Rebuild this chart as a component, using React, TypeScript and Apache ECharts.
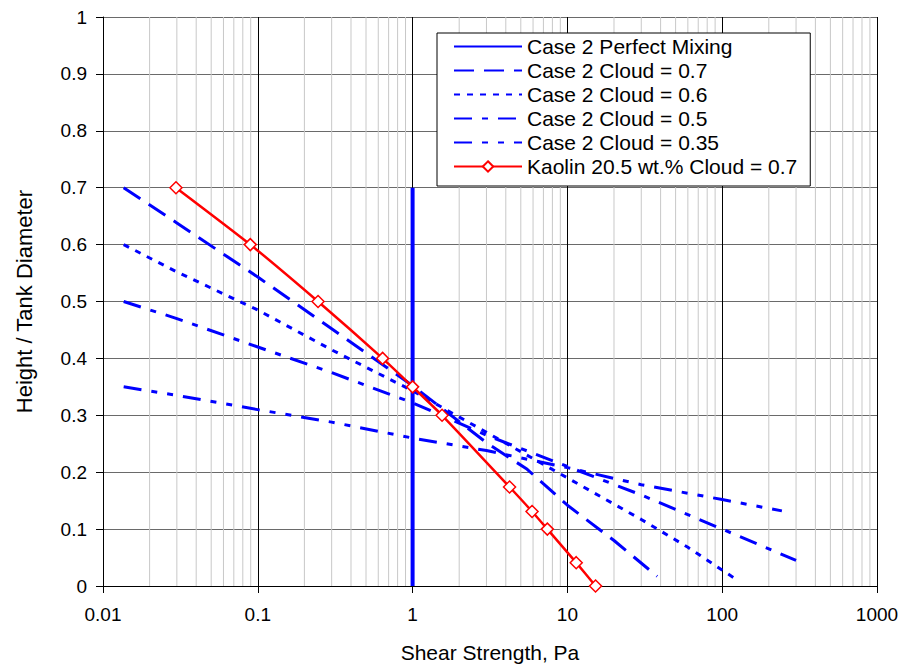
import React, { useEffect, useRef } from "react";
import * as echarts from "echarts";

const perfectX = [1, 1];
const perfectY = [0, 0.7];

const cloud07X = [0.0136, 0.03, 0.1, 0.3, 1, 3, 5.5, 10, 20, 38];
const cloud07Y = [0.7, 0.638, 0.543, 0.452, 0.352, 0.252, 0.205, 0.142, 0.08, 0.017];

const cloud06X = [0.0136, 0.03, 0.1, 0.3, 1, 3, 10, 30, 60, 118];
const cloud06Y = [0.6, 0.552, 0.485, 0.415, 0.343, 0.27, 0.19, 0.117, 0.068, 0.015];

const cloud05X = [0.0136, 0.03, 0.1, 0.3, 1, 3, 10, 30, 100, 300];
const cloud05Y = [0.5, 0.47, 0.42, 0.375, 0.322, 0.265, 0.21, 0.16, 0.1, 0.045];

const cloud035X = [0.0136, 0.03, 0.1, 0.3, 1, 3, 10, 30, 100, 243];
const cloud035Y = [0.35, 0.335, 0.31, 0.288, 0.26, 0.238, 0.208, 0.178, 0.152, 0.132];

const kaolinX = [0.0296, 0.0894, 0.245, 0.64, 1.0, 1.55, 4.23, 5.91, 7.42, 11.4, 15.2];
const kaolinY = [0.7, 0.6, 0.5, 0.4, 0.35, 0.3, 0.174, 0.131, 0.1, 0.041, 0];

const seriesNames = [
  "Case 2 Perfect Mixing",
  "Case 2 Cloud = 0.7",
  "Case 2 Cloud = 0.6",
  "Case 2 Cloud = 0.5",
  "Case 2 Cloud = 0.35",
  "Kaolin 20.5 wt.% Cloud = 0.7",
];

const decades = [0.01, 0.1, 1, 10, 100];
const minorSteps = [2, 3, 4, 5, 6, 7, 8, 9];

const FONT = "'Liberation Sans', Arial, sans-serif";

function pairs(xs: number[], ys: number[]) {
  return xs.map((x, i) => [x, ys[i]]);
}

export default function App() {
  const ref = useRef<HTMLDivElement>(null);
  useEffect(() => {
    document.body.style.margin = "0";
    if (!ref.current) return;
    const chart = echarts.init(ref.current, undefined, { renderer: "svg" });
    const minorLines: number[][] = [];
    decades.forEach((d) =>
      minorSteps.forEach((k) => minorLines.push([parseFloat((d * k).toPrecision(6))]))
    );

    const blue = "#0000ff";
    const cloudSeries = (name: string, xs: number[], ys: number[], dash: number[]) => ({
      name,
      type: "line",
      data: pairs(xs, ys),
      symbol: "none",
      z: 3,
      color: blue,
      itemStyle: { color: blue, opacity: 0 },
      lineStyle: { color: blue, width: 3, type: dash, cap: "butt" },
    });

    chart.setOption({
      animation: false,
      backgroundColor: "#ffffff",
      textStyle: { fontFamily: FONT },
      grid: {
        left: 103,
        right: 27,
        top: 17,
        bottom: 78,
        containLabel: false,
        outerBoundsMode: "none",
      },
      legend: {
        data: seriesNames,
        orient: "vertical",
        left: 437,
        top: 33,
        padding: [3, 13, 9, 16],
        itemWidth: 68,
        itemHeight: 13,
        itemGap: 3,
        backgroundColor: "#ffffff",
        borderColor: "#000000",
        borderWidth: 1,
        borderRadius: 0,
        textStyle: { fontFamily: FONT, fontSize: 21, color: "#000", lineHeight: 21 },
        itemTextGap: 6,
      },
      xAxis: {
        type: "log",
        logBase: 10,
        min: 0.01,
        max: 1000,
        name: "Shear Strength, Pa",
        nameLocation: "middle",
        nameGap: 56,
        nameTextStyle: { fontFamily: FONT, fontSize: 21, color: "#000" },
        axisLine: { show: true, onZero: false, lineStyle: { color: "#000", width: 1 } },
        axisTick: { show: true, length: 7, lineStyle: { color: "#000" } },
        axisLabel: {
          fontFamily: FONT,
          fontSize: 19,
          color: "#000",
          margin: 19,
          formatter: (v: number) => String(parseFloat(v.toPrecision(6))),
        },
        splitLine: { show: true, lineStyle: { color: "#000", width: 1 } },
      },
      yAxis: {
        type: "value",
        min: 0,
        max: 1,
        interval: 0.1,
        name: "Height / Tank Diameter",
        nameLocation: "middle",
        nameRotate: 90,
        nameGap: 68,
        nameTextStyle: { fontFamily: FONT, fontSize: 22, color: "#000" },
        axisLine: { show: true, lineStyle: { color: "#000", width: 1 } },
        axisTick: { show: true, length: 7, lineStyle: { color: "#000" } },
        axisLabel: {
          fontFamily: FONT,
          fontSize: 19,
          color: "#000",
          margin: 16,
          formatter: (v: number) => String(parseFloat(v.toFixed(1))),
        },
        splitLine: { show: true, lineStyle: { color: "#6a6a6a", width: 1 } },
      },
      series: [
        {
          name: "minor-grid",
          type: "custom",
          data: minorLines,
          z: 1,
          silent: true,
          clip: true,
          renderItem: (params: any, api: any) => {
            const v = api.value(0);
            const top = api.coord([v, 1]);
            const bottom = api.coord([v, 0]);
            return {
              type: "line",
              shape: { x1: top[0], y1: top[1], x2: bottom[0], y2: bottom[1] },
              style: { stroke: "#c8c8c8", lineWidth: 1 },
              z2: 0,
            };
          },
          encode: { x: 0 },
        },
        {
          name: seriesNames[0],
          type: "line",
          data: pairs(perfectX, perfectY),
          symbol: "none",
          z: 4,
          color: blue,
          itemStyle: { color: blue, opacity: 0 },
          lineStyle: { color: blue, width: 4 },
        },
        cloudSeries(seriesNames[1], cloud07X, cloud07Y, [20, 10]),
        cloudSeries(seriesNames[2], cloud06X, cloud06Y, [6, 7]),
        cloudSeries(seriesNames[3], cloud05X, cloud05Y, [18, 10, 6, 10]),
        cloudSeries(seriesNames[4], cloud035X, cloud035Y, [18, 10, 6, 10, 6, 10]),
        {
          name: seriesNames[5],
          type: "line",
          data: pairs(kaolinX, kaolinY),
          smooth: 0.2,
          symbol: "diamond",
          symbolSize: [12, 12],
          showAllSymbol: true,
          z: 5,
          color: "#ff0000",
          itemStyle: { color: "#ffffff", borderColor: "#ff0000", borderWidth: 1.5 },
          lineStyle: { color: "#ff0000", width: 2.5 },
        },
      ],
    });
    return () => chart.dispose();
  }, []);
  return <div ref={ref} style={{ width: 904, height: 664 }} />;
}
